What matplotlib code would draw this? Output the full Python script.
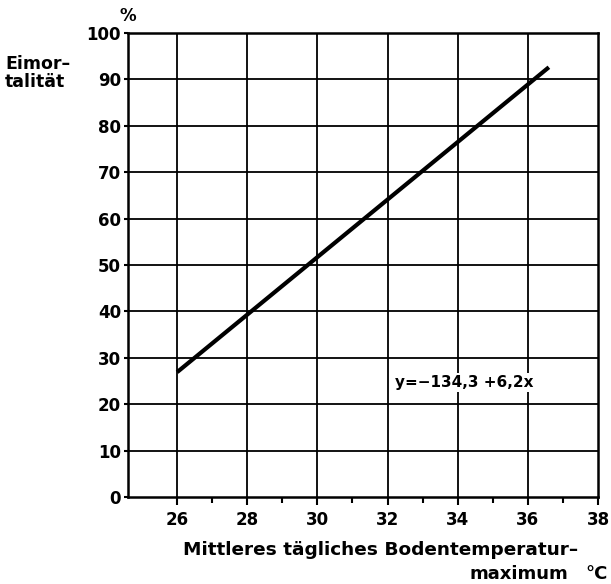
import numpy as np
import matplotlib.pyplot as plt

# Regression of egg mortality on mean daily soil temperature maximum
intercept = -134.3
slope = 6.2
temp_range = [26.0, 36.6]          # measured span of the regression, °C

x_ticks = [26, 28, 30, 32, 34, 36, 38]
x_minor = [27, 29, 31, 33, 35, 37]
y_ticks = [0, 10, 20, 30, 40, 50, 60, 70, 80, 90, 100]

plt.rcParams['font.family'] = 'DejaVu Sans'
plt.rcParams['font.weight'] = 'bold'

fig = plt.figure(figsize=(6.11, 5.84), dpi=100)
ax = fig.add_axes([0.2095, 0.149, 0.7692, 0.7945])

xs = np.array(temp_range)
ys = intercept + slope * xs
ax.plot(xs, ys, color='black', lw=3.0, solid_capstyle='butt', zorder=3)

ax.set_xlim(24.6, 38)
ax.set_ylim(0, 100)
ax.set_xticks(x_ticks)
ax.set_xticks(x_minor, minor=True)
ax.set_yticks(y_ticks)
ax.set_xticklabels([str(t) for t in x_ticks], fontsize=12, fontweight='bold')
ax.set_yticklabels([str(t) for t in y_ticks], fontsize=12, fontweight='bold')

# grid only inside the frame
for t in x_ticks[:-1]:
    ax.axvline(t, color='black', lw=1.3, zorder=1)
for t in y_ticks[1:-1]:
    ax.axhline(t, color='black', lw=1.3, zorder=1)

for s in ax.spines.values():
    s.set_linewidth(1.8)
ax.tick_params(axis='x', which='major', direction='out', length=6, width=1.5, pad=4)
ax.tick_params(axis='x', which='minor', direction='out', length=4, width=1.5)
ax.tick_params(axis='y', which='major', direction='out', length=3, width=1.5, pad=2)

ax.text(32.2, 24.6, 'y=\u2212134,3 +6,2x', fontsize=11, fontweight='bold',
        va='center', ha='left', zorder=4,
        bbox=dict(facecolor='white', edgecolor='none', pad=1.5))

# axis captions
fig.text(0.008, 0.875, 'Eimor\u2013\ntalität', fontsize=12.5, fontweight='bold',
         ha='left', va='center', linespacing=1.0)
fig.text(0.209, 0.972, '%', fontsize=12, fontweight='bold', ha='center', va='center')
fig.text(0.947, 0.058, 'Mittleres tägliches Bodentemperatur\u2013',
         fontsize=13.3, fontweight='bold', ha='right', va='center')
fig.text(0.93, 0.017, 'maximum', fontsize=13, fontweight='bold', ha='right', va='center')
fig.text(0.995, 0.017, '°C', fontsize=13, fontweight='bold', ha='right', va='center')

fig.savefig('out.png', dpi=100)
